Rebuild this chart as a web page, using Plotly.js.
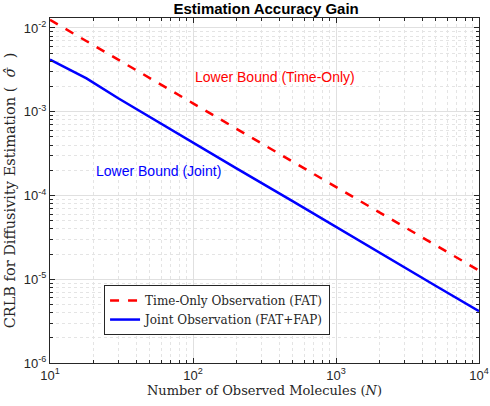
<!DOCTYPE html>
<html>
<head>
<meta charset="utf-8">
<script src="https://cdn.plot.ly/plotly-3.0.1.min.js"></script>
<style>html,body{margin:0;padding:0;background:#fff;}#chart{width:490px;height:406px;}</style>
</head>
<body>
<div id="chart"></div>
<script>
// Data
const nTime = [10, 20, 50, 100, 200, 500, 1000, 2000, 5000, 10000];
const crlbTime = [0.0125, 0.0063, 0.0025, 0.00126, 0.00063, 0.000252, 0.000126, 0.000063, 0.0000252, 0.0000127];
const nJoint = [10, 18, 30, 50, 100, 200, 500, 1000, 2000, 5000, 10000];
const crlbJoint = [0.0042, 0.0025, 0.00145, 0.00086, 0.000425, 0.000212, 0.000085, 0.000042, 0.000021, 0.0000083, 0.00000415];
const xTickVals = [10, 100, 1000, 10000];
const xTickText = ['10<sup>1</sup>', '10<sup>2</sup>', '10<sup>3</sup>', '10<sup>4</sup>'];
const yTickVals = [1e-6, 1e-5, 1e-4, 1e-3, 1e-2];
const yTickText = ['10<sup>-6</sup>', '10<sup>-5</sup>', '10<sup>-4</sup>', '10<sup>-3</sup>', '10<sup>-2</sup>'];
const minorDigits = [2, 3, 4, 5, 6, 7, 8, 9];
const seriesNames = ['Time-Only Observation (FAT)', 'Joint Observation (FAT+FAP)'];
const labelTime = 'Lower Bound (Time-Only)';
const labelJoint = 'Lower Bound (Joint)';

const xMinor = [];
xTickVals.slice(0, -1).forEach(d => minorDigits.forEach(m => xMinor.push(d * m)));
const yMinor = [];
yTickVals.forEach(d => minorDigits.forEach(m => yMinor.push(d * m)));

const sans = 'Liberation Sans, Arial, sans-serif';
const serif = 'DejaVu Serif, Liberation Serif, serif';

const traces = [
  {x: nTime, y: crlbTime, name: seriesNames[0], mode: 'lines', type: 'scatter',
   line: {color: '#ff0000', width: 2.5, dash: 'dash'}},
  {x: nJoint, y: crlbJoint, name: seriesNames[1], mode: 'lines', type: 'scatter',
   line: {color: '#0000ff', width: 2.5}}
];

function axis(minorVals) {
  return {
    type: 'log', showline: true, linecolor: '#262626', linewidth: 1, mirror: 'ticks',
    ticks: 'inside', ticklen: 5, tickcolor: '#262626', tickmode: 'array',
    showgrid: true, gridcolor: '#e0e0e0', gridwidth: 1,
    zeroline: false, tickfont: {family: sans, size: 13, color: '#262626'},
    minor: {tickmode: 'array', tickvals: minorVals, ticks: 'inside', ticklen: 3, tickcolor: '#262626',
            showgrid: true, gridcolor: '#e4e4e4', griddash: 'dot', gridwidth: 1}
  };
}

const layout = {
  width: 490, height: 406,
  margin: {l: 50, r: 11, t: 18, b: 43},
  paper_bgcolor: '#ffffff', plot_bgcolor: '#ffffff',
  title: {text: '<b>Estimation Accuracy Gain</b>', font: {family: sans, size: 15, color: '#000'}, x: 0.543, xanchor: 'center', y: 0.978, yanchor: 'middle'},
  xaxis: Object.assign(axis(xMinor), {
    range: [1, 4], tickvals: xTickVals, ticktext: xTickText,
    title: {text: 'Number of Observed Molecules (<i>N</i>)', font: {family: serif, size: 13, color: '#262626'}, standoff: 3}
  }),
  yaxis: Object.assign(axis(yMinor), {
    range: [-6, -1.881], tickvals: yTickVals, ticktext: yTickText,
    title: {text: 'CRLB for Diffusivity Estimation (  <i>σ̂</i>  )', font: {family: serif, size: 14.5, color: '#262626'}, standoff: 4}
  }),
  showlegend: true,
  legend: {x: 0.126, y: 0.081, xanchor: 'left', yanchor: 'bottom', bgcolor: '#ffffff', bordercolor: '#262626', borderwidth: 1,
    font: {family: serif, size: 12, color: '#262626'}, tracegroupgap: 0, itemwidth: 30},
  annotations: [
    {x: 2, y: Math.log10(0.0026), xref: 'x', yref: 'y', text: labelTime, showarrow: false, xanchor: 'left', yanchor: 'middle', font: {family: sans, size: 14, color: '#ff0000'}},
    {x: Math.log10(20.3), y: Math.log10(0.000195), xref: 'x', yref: 'y', text: labelJoint, showarrow: false, xanchor: 'left', yanchor: 'middle', font: {family: sans, size: 14, color: '#0000ff'}}
  ]
};

Plotly.newPlot('chart', traces, layout, {displayModeBar: false, staticPlot: true});
</script>
</body>
</html>
